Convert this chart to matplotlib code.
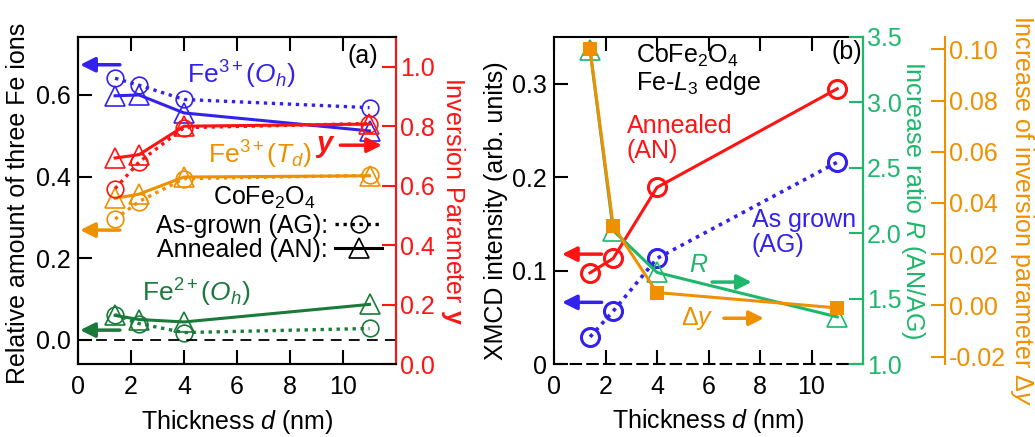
import numpy as np
import matplotlib
matplotlib.use('Agg')
import matplotlib.pyplot as plt
from matplotlib.lines import Line2D

plt.rcParams['font.family'] = ['Liberation Sans', 'DejaVu Sans']
plt.rcParams['mathtext.fontset'] = 'custom'
plt.rcParams['mathtext.rm'] = 'Liberation Sans'
plt.rcParams['mathtext.it'] = 'Liberation Sans:italic'
plt.rcParams['mathtext.bf'] = 'Liberation Sans:bold'
plt.rcParams['font.size'] = 18

# ---------------------------- data ---------------------------- #

d = [1.4, 2.3, 4.0, 11.0]

# (a) relative amount of Fe ions, as-grown (AG) and annealed (AN)
fe3_oh_ag = [0.641, 0.624, 0.589, 0.569]
fe3_oh_an = [0.598, 0.600, 0.556, 0.512]
fe3_td_ag = [0.296, 0.339, 0.395, 0.403]
fe3_td_an = [0.347, 0.357, 0.399, 0.402]
fe2_oh_ag = [0.062, 0.040, 0.018, 0.028]
fe2_oh_an = [0.060, 0.050, 0.044, 0.087]
# inversion parameter y (right axis)
y_ag = [0.590, 0.679, 0.795, 0.809]
y_an = [0.693, 0.704, 0.800, 0.807]

# (b) XMCD intensity, increase ratio R and increase of y
xmcd_an = [0.0976, 0.113, 0.189, 0.2946]
xmcd_ag = [0.029, 0.0566, 0.113, 0.216]
ratio_r = [3.40, 2.02, 1.70, 1.36]
delta_y = [0.100, 0.031, 0.005, -0.001]

BLUE = '#3322ee'
RED = '#ff1414'
ORANGE = '#ee9000'
DGREEN = '#1a7a3a'
LGREEN = '#1db86c'

FS = 18
dot = (0, (1.0, 1.4))


def style(ax):
    ax.tick_params(direction='in', length=10, width=1.5, labelsize=FS)
    for s in ax.spines.values():
        s.set_linewidth(1.5)


def arrow(ax, x0, x1, y, color):
    ax.annotate('', xy=(x1, y), xytext=(x0, y),
                arrowprops=dict(arrowstyle='-|>', color=color, lw=2.5,
                                mutation_scale=22, shrinkA=0, shrinkB=0))


fig = plt.figure(figsize=(10.35, 4.37), dpi=100)

# ---------------------------- (a) ---------------------------- #
ax = fig.add_axes([78/1035, 73/437, 318/1035, 327/437])
ay = ax.twinx()
style(ax)
style(ay)

for ag, an, c in [(fe3_oh_ag, fe3_oh_an, BLUE),
                  (fe3_td_ag, fe3_td_an, ORANGE),
                  (fe2_oh_ag, fe2_oh_an, DGREEN)]:
    ax.plot(d, ag, ls=dot, lw=2.4, color=c, marker='o', ms=12, mfc='none', mew=1.2)
    ax.plot(d, an, ls='-', lw=2.2, color=c, marker='^', ms=14, mfc='none', mew=1.2)
ay.plot(d, y_ag, ls=dot, lw=2.4, color=RED, marker='o', ms=12, mfc='none', mew=1.2)
ay.plot(d, y_an, ls='-', lw=2.2, color=RED, marker='^', ms=14, mfc='none', mew=1.2)

ax.axhline(0, color='k', ls='--', lw=1.3, dashes=(6, 4))
ax.set_xlim(0, 12)
ax.set_ylim(-0.059, 0.742)
ay.set_ylim(0, 1.1)
ax.set_xticks([0, 2, 4, 6, 8, 10])
ax.set_yticks([0.0, 0.2, 0.4, 0.6])
ax.set_yticklabels(['0.0', '0.2', '0.4', '0.6'])
ay.set_yticks([0.0, 0.2, 0.4, 0.6, 0.8, 1.0])
ay.set_yticklabels(['0.0', '0.2', '0.4', '0.6', '0.8', '1.0'])
ax.tick_params(top=True, pad=8)
ax.tick_params(axis='y', pad=5)
ay.tick_params(axis='y', colors=RED, pad=3)
ay.spines['right'].set_color(RED)

ax.set_xlabel('Thickness $d$ (nm)', fontsize=FS)
ax.xaxis.set_label_coords(0.5, -0.135)
ax.set_ylabel('Relative amount of three Fe ions', fontsize=FS)
ax.yaxis.set_label_coords(-0.15, 0.49)
ay.set_ylabel(r'Inversion Parameter $\mathbf{y}$', fontsize=FS, color=RED,
              rotation=270, va='center')
ay.yaxis.set_label_coords(1.18, 0.5)

ax.text(4.1, 0.628, r'Fe$^{3+}$($O_h$)', color=BLUE, fontsize=19)
ax.text(4.92, 0.432, r'Fe$^{3+}$($T_d$)', color=ORANGE, fontsize=19)
ax.text(2.4, 0.093, r'Fe$^{2+}$($O_h$)', color=DGREEN, fontsize=19)
ax.text(9.0, 0.46, 'y', color=RED, fontsize=21, style='italic',
        fontweight='bold')
ax.text(5.08, 0.332, r'CoFe$_2$O$_4$', fontsize=FS)
ax.text(0.846, 0.943, '(a)', transform=ax.transAxes, va='center', fontsize=FS)

arrow(ax, 1.58, 0.08, 0.674, BLUE)
arrow(ax, 1.58, 0.08, 0.269, ORANGE)
arrow(ax, 1.58, 0.08, 0.024, DGREEN)
arrow(ax, 9.9, 11.47, 0.477, RED)

handles = [Line2D([], [], color='k', ls=dot, lw=2.4, marker='o', ms=12,
                  mfc='none', mew=1.2),
           Line2D([], [], color='k', ls='-', lw=2.2, marker='^', ms=14,
                  mfc='none', mew=1.2)]
leg = ax.legend(handles, ['As-grown (AG):', 'Annealed (AN):'], loc='upper right',
                bbox_to_anchor=(0.955, 0.46), frameon=False, markerfirst=False,
                numpoints=1, handlelength=1.85, handletextpad=0.3,
                labelspacing=0.0, borderpad=0, borderaxespad=0, fontsize=FS)

# ---------------------------- (b) ---------------------------- #
bx = fig.add_axes([554/1035, 73/437, 309/1035, 327/437])
br = bx.twinx()
bd = bx.twinx()
for a in (bx, br, bd):
    style(a)

bx.plot(d, xmcd_an, ls='-', lw=2.2, color=RED, marker='o', ms=13, mfc='none', mew=2.2)
bx.plot(d, xmcd_ag, ls=dot, lw=2.6, color=BLUE, marker='o', ms=13, mfc='none', mew=2.2)
br.plot(d, ratio_r, ls='-', lw=2.2, color=LGREEN, marker='^', ms=15, mfc='none', mew=1.2)
bd.plot(d, delta_y, ls='-', lw=2.2, color=ORANGE, marker='s', ms=10, mfc=ORANGE, mew=0)

bx.set_xlim(0, 12)
bx.set_ylim(0, 0.35)
br.set_ylim(1.0, 3.5)
bd.set_ylim(-0.0229, 0.1048)
bx.set_xticks([0, 2, 4, 6, 8, 10])
bx.set_yticks([0, 0.1, 0.2, 0.3])
bx.set_yticklabels(['0', '0.1', '0.2', '0.3'])
br.set_yticks([1.0, 1.5, 2.0, 2.5, 3.0, 3.5])
br.set_yticklabels(['1.0', '1.5', '2.0', '2.5', '3.0', '3.5'])
bd.set_yticks([-0.02, 0.0, 0.02, 0.04, 0.06, 0.08, 0.10])
bd.set_yticklabels(['-0.02', '0.00', '0.02', '0.04', '0.06', '0.08', '0.10'])
bx.tick_params(top=True, pad=8)
bx.tick_params(axis='y', pad=5)
bx.spines['bottom'].set_linestyle((0, (5, 3)))
br.tick_params(axis='y', colors=LGREEN, pad=3)
br.spines['right'].set_color(LGREEN)
bd.spines['right'].set_position(('axes', 1 + 82/309))
bd.spines['right'].set_color(ORANGE)
bd.tick_params(axis='y', colors=ORANGE, pad=3)
for s in ('top', 'bottom', 'left'):
    bd.spines[s].set_visible(False)
    br.spines[s].set_visible(False)

bx.set_xlabel('Thickness $d$ (nm)', fontsize=FS)
bx.xaxis.set_label_coords(0.5, -0.13)
bx.set_ylabel('XMCD intensity (arb. units)', fontsize=FS)
bx.yaxis.set_label_coords(-0.15, 0.47)
br.set_ylabel('Increase ratio $R$ (AN/AG)', fontsize=FS, color=LGREEN,
              rotation=270, va='center')
br.yaxis.set_label_coords(1.162, 0.5)
fig.text(1022/1035, 1 - 15/437, r'Increase of inversion parameter $\Delta y$',
         color=ORANGE, fontsize=FS, rotation=270, ha='center', va='top')

bx.text(3.2, 0.322, r'CoFe$_2$O$_4$', fontsize=FS)
bx.text(3.2, 0.293, r'Fe-$L_3$ edge', fontsize=FS)
bx.text(2.82, 0.247, 'Annealed', color=RED, fontsize=FS)
bx.text(2.82, 0.220, '(AN)', color=RED, fontsize=FS)
bx.text(7.68, 0.147, 'As grown', color=BLUE, fontsize=FS)
bx.text(7.68, 0.120, '(AG)', color=BLUE, fontsize=FS)
bx.text(5.25, 0.098, '$R$', color=LGREEN, fontsize=FS)
bx.text(4.94, 0.042, r'$\Delta y$', color=ORANGE, fontsize=FS)
bx.text(10.77, 0.334, '(b)', va='center', fontsize=FS)

arrow(bx, 1.85, 0.31, 0.1176, RED)
arrow(bx, 1.85, 0.31, 0.066, BLUE)
arrow(bx, 6.14, 7.68, 0.0877, LGREEN)
arrow(bx, 6.6, 8.15, 0.049, ORANGE)

fig.savefig('out.png', dpi=100)
